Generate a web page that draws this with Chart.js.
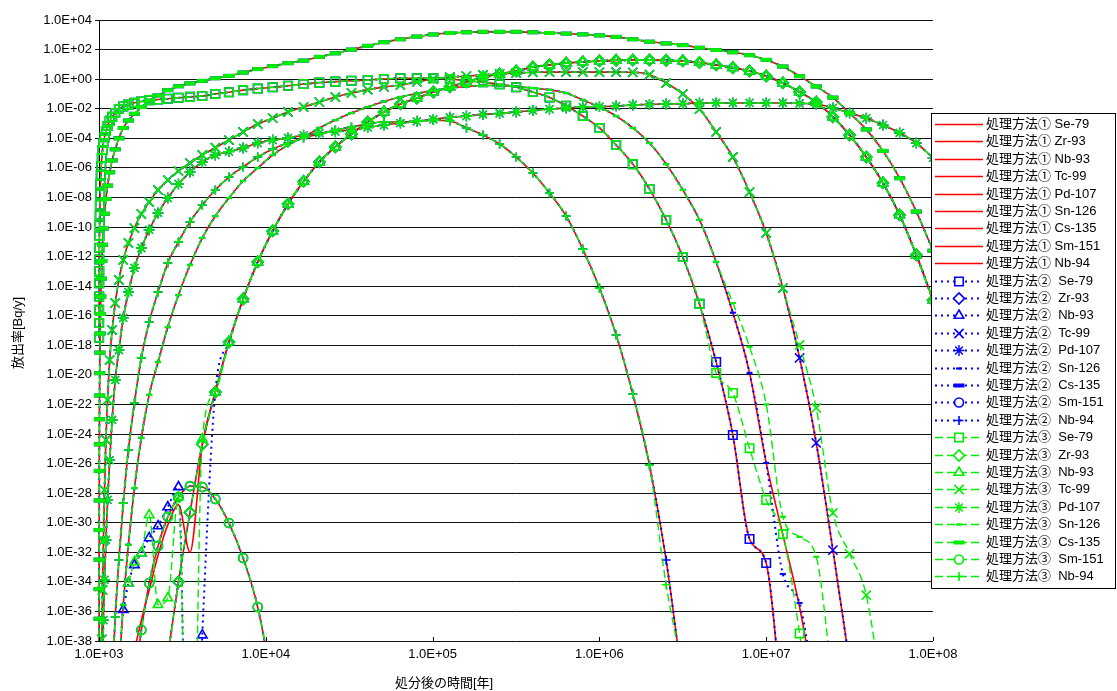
<!DOCTYPE html>
<html>
<head>
<meta charset="utf-8">
<script src="https://cdn.jsdelivr.net/npm/chart.js@4.4.1/dist/chart.umd.min.js"></script>
<style>
  html, body { margin: 0; padding: 0; background: #fff; }
  #wrap { position: relative; width: 1117px; height: 691px; }
</style>
</head>
<body>
<div id="wrap"><canvas id="releaseChart" width="1117" height="691"></canvas></div>
<script>
// time after disposal [y] (1000 + 10^(k/10), k = 0..80)
const years = [1001, 1001.3, 1001.6, 1002, 1002.5, 1003.2, 1004, 1005, 1006.3, 1007.9,
  1010, 1012.6, 1015.8, 1020, 1025.1, 1031.6, 1039.8, 1050.1, 1063.1, 1079.4,
  1100, 1125.9, 1158.5, 1199.5, 1251.2, 1316.2, 1398.1, 1501.2, 1631, 1794.3,
  2000, 2259, 2585, 2995, 3512, 4162, 4981, 6012, 7310, 8943,
  11000, 13589, 16849, 20953, 26119, 32623, 40811, 51119, 64096, 80433,
  1.01e5, 1.269e5, 1.595e5, 2.005e5, 2.522e5, 3.172e5, 3.991e5, 5.022e5, 6.32e5, 7.953e5,
  1.001e6, 1.26e6, 1.586e6, 1.996e6, 2.513e6, 3.163e6, 3.982e6, 5.013e6, 6.311e6, 7.944e6,
  1.0001e7, 1.259e7, 1.585e7, 1.995e7, 2.512e7, 3.162e7, 3.981e7, 5.012e7, 6.31e7, 7.943e7,
  1.00001e8];

const nuclides = ['Se-79', 'Zr-93', 'Nb-93', 'Tc-99', 'Pd-107', 'Sn-126', 'Cs-135', 'Sm-151', 'Nb-94'];
const methods = ['処理方法①', '処理方法②', '処理方法③'];

// release rate [Bq/y]; each list starts at the years index noted
// Se-79 from k=0 (to k=66, tails below)
const se79 = [3.2e-18, 3.2e-17, 2.5e-16, 2e-15, 1.6e-14, 1e-13, 6.3e-13, 4e-12, 2.5e-11, 1.3e-10,
  6.3e-10, 3.2e-9, 1.6e-8, 7.9e-8, 3.2e-7, 1.3e-6, 4.7e-6, 1.6e-5, 4.8e-5, 1.2e-4,
  3.1e-4, 6.8e-4, 1.5e-3, 2.8e-3, 5.1e-3, 9.5e-3, 1.4e-2, 1.9e-2, 2.5e-2, 3.1e-2,
  3.8e-2, 4.2e-2, 4.7e-2, 5.5e-2, 6.3e-2, 7.2e-2, 0.1, 0.13, 0.18, 0.23,
  0.28, 0.36, 0.47, 0.58, 0.68, 0.78, 0.87, 1.02, 1.15, 1.15,
  1.15, 1.02, 0.76, 0.63, 0.45, 0.28, 0.135, 0.058, 0.016, 3.2e-3,
  5e-4, 3.5e-5, 1.8e-6, 3.7e-8, 3e-10, 9.3e-13, 6.3e-16];
const se79TailA = [7.4e-20, 8.5e-25, 7.9e-32, 1.9e-33, 1e-43];
const se79TailC = [1.35e-20, 5.9e-22, 1.1e-25, 3.5e-29, 1.7e-31, 3.2e-38, 1e-46];

// Zr-93 from k=32
const zr93 = [1e-39, 1e-34, 5e-30, 2e-25, 6.9e-22, 1.66e-18, 1.35e-15, 4.3e-13, 5.4e-11, 3.6e-9,
  1.2e-7, 2.5e-6, 2.6e-5, 1.95e-4, 1.26e-3, 6e-3, 2.1e-2, 5.2e-2, 0.135, 0.3,
  0.65, 1.38, 2.24, 3.5, 6.6, 9.1, 12.3, 14.5, 17, 18.6,
  19.5, 19.5, 18.6, 17, 13.2, 9.1, 5.9, 3.5, 1.6, 0.55,
  0.135, 2.8e-2, 2.8e-3, 1.66e-4, 5.4e-6, 9.5e-8, 6.5e-10, 1.3e-12, 1.15e-15];

// Nb-93 early part per method (from k=28 / 26 / 27 up to k=35), later same as Zr-93
const nb93HeadA = [2.5e-39, 2.5e-37, 2.8e-35, 6.3e-33, 7.1e-31, 1.6e-29, 1e-32, 1.8e-25];
const nb93HeadB = [1.3e-36, 8.3e-35, 1.4e-33, 8.9e-33, 9.3e-32, 6e-31, 1.15e-29, 2.6e-28, 1e-60, 2.5e-38];
const nb93HeadC = [8.3e-35, 2.2e-33, 8.9e-33, 3.3e-30, 2.8e-36, 8.1e-36, 5.5e-29, 1e-60, 4.6e-25];

// Tc-99 from k=15 (to k=71)
const tc99 = [1e-42, 1.26e-38, 2.8e-35, 6.3e-32, 1.6e-28, 4e-25, 2e-22, 1e-19, 1.07e-17, 7.2e-16,
  2.6e-14, 5.9e-13, 8.3e-12, 8.5e-11, 7.6e-10, 4.9e-9, 3.2e-8, 1.5e-7, 6.2e-7, 2.1e-6,
  7.4e-6, 2.3e-5, 7.6e-5, 2.7e-4, 9.3e-4, 2.3e-3, 6e-3, 1.3e-2, 2.8e-2, 6.2e-2,
  0.115, 0.19, 0.3, 0.4, 0.65, 1.02, 1.38, 1.6, 1.9, 2.3,
  2.6, 2.9, 3.0, 3.0, 3.0, 3.0, 3.0, 2.9, 2.0, 0.55,
  0.1, 9.5e-3, 2.7e-4, 5.4e-6, 2.3e-8, 3.9e-11, 7.4e-15];
const tc99TailA = [1.4e-19, 2.5e-25, 1.4e-32, 3.2e-40];
const tc99TailC = [1.05e-18, 5.8e-23, 4.6e-30, 7.9e-33, 1.26e-35, 1e-42];

// Pd-107 from k=17
const pd107 = [5e-40, 2.6e-37, 1.35e-34, 6.8e-32, 3.5e-29, 1.7e-26, 8.9e-24, 4.5e-21, 4.8e-19, 7.1e-17,
  4e-15, 1.7e-13, 3.8e-12, 6.3e-11, 8.9e-10, 9.1e-9, 8.1e-8, 5.2e-7, 2.5e-6, 7.4e-6,
  1.26e-5, 2.2e-5, 4.8e-5, 7.6e-5, 1.05e-4, 1.6e-4, 2.2e-4, 2.8e-4, 3.6e-4, 5.4e-4,
  7.9e-4, 1.07e-3, 1.4e-3, 1.9e-3, 2.6e-3, 3.2e-3, 4.1e-3, 4.8e-3, 6e-3, 7.6e-3,
  9.5e-3, 1.12e-2, 1.3e-2, 1.4e-2, 1.5e-2, 1.8e-2, 1.95e-2, 2.1e-2, 2.2e-2, 2.45e-2,
  2.45e-2, 2.45e-2, 2.45e-2, 2.45e-2, 2.45e-2, 2.3e-2, 2.1e-2, 1.12e-2, 5.1e-3, 2.3e-3,
  7.9e-4, 2.3e-4, 4.8e-5, 4.7e-6];

// Sn-126 from k=25 (to k=67)
const sn126 = [1.1e-40, 2.8e-36, 3.2e-32, 2.2e-28, 5.4e-25, 4.4e-22, 7.4e-20, 1.7e-17, 2.5e-15, 2.7e-13,
  1.8e-11, 5.5e-10, 9.1e-9, 1.3e-7, 9.8e-7, 7.4e-6, 3.5e-5, 1.2e-4, 5e-4, 1.7e-3,
  5.1e-3, 1.3e-2, 3.1e-2, 6.2e-2, 0.107, 0.17, 0.25, 0.32, 0.37, 0.37,
  0.32, 0.25, 0.19, 0.115, 3.9e-2, 1.3e-2, 3.2e-3, 5e-4, 4.8e-5, 1.8e-6,
  3.2e-8, 3e-10, 4.3e-13];
const sn126TailA = [1.6e-16, 1.35e-20, 1.1e-26, 1.5e-31, 2e-36, 1e-42];
const sn126TailB = [1.6e-16, 1.35e-20, 1.1e-26, 3.4e-34, 3.7e-36, 1e-42];
const sn126TailC = [7.2e-16, 7.9e-19, 1e-22, 2.5e-30, 1.1e-31, 5e-33, 1e-41];

// Cs-135 from k=0
const cs135 = [3.2e-39, 3.2e-37, 3.2e-35, 3.2e-33, 3.2e-31, 3.2e-29, 3.2e-27, 2e-25, 1e-23, 4e-22,
  1.3e-20, 3.2e-19, 6.3e-18, 1.3e-16, 2e-15, 3.2e-14, 5e-13, 6.3e-12, 7.9e-11, 7.9e-10,
  7.9e-9, 6.3e-8, 5e-7, 3.2e-6, 1.8e-5, 1e-4, 5e-4, 1.6e-3, 4.5e-3, 1.3e-2,
  3.5e-2, 7.9e-2, 0.18, 0.33, 0.52, 0.76, 1.15, 1.66, 2.8, 4.8,
  7.6, 12, 18, 32, 56, 100, 178, 316, 500, 760,
  1050, 1320, 1480, 1580, 1580, 1580, 1480, 1320, 1200, 1070,
  910, 720, 500, 340, 260, 200, 132, 93, 66, 42,
  20, 7.1, 1.6, 0.32, 0.056, 5e-3, 4e-4, 1.4e-5, 2e-7, 1.1e-9,
  2.5e-12];

// Sm-151 from k=28
const sm151 = [1e-41, 5.6e-38, 8.3e-35, 2.7e-32, 2.5e-30, 5.5e-29, 3e-28, 2.6e-28, 4e-29, 9.5e-31,
  4.1e-33, 2e-36, 1e-41];

// Nb-94 from k=23 (to k=63)
const nb94 = [2.5e-41, 4.2e-37, 3e-33, 2.1e-29, 8.3e-26, 1.26e-22, 1.4e-19, 3.8e-17, 4e-15, 3.7e-13,
  9.8e-12, 2.2e-10, 3.1e-9, 3.2e-8, 2.4e-7, 1.15e-6, 5.4e-6, 1.9e-5, 4.8e-5, 1.05e-4,
  1.95e-4, 3.6e-4, 5.8e-4, 9.3e-4, 1.26e-3, 1.26e-3, 1.48e-3, 1.66e-3, 1.48e-3, 5e-4,
  1.66e-4, 4.1e-5, 5.4e-6, 4.5e-7, 2e-8, 5.5e-10, 3.2e-12, 7.4e-15, 5e-18, 5.1e-22,
  7.9e-27];
const nb94TailA = [3e-33, 1e-41];
const nb94TailC = [6.3e-35, 1e-40];

const xTicks = [1e3, 1e4, 1e5, 1e6, 1e7, 1e8];
const xTickLabels = ['1.0E+03', '1.0E+04', '1.0E+05', '1.0E+06', '1.0E+07', '1.0E+08'];
const yTicks = [1e-38, 1e-36, 1e-34, 1e-32, 1e-30, 1e-28, 1e-26, 1e-24, 1e-22, 1e-20, 1e-18,
  1e-16, 1e-14, 1e-12, 1e-10, 1e-8, 1e-6, 1e-4, 1e-2, 1, 1e2, 1e4];
const yTickLabels = ['1.0E-38', '1.0E-36', '1.0E-34', '1.0E-32', '1.0E-30', '1.0E-28', '1.0E-26',
  '1.0E-24', '1.0E-22', '1.0E-20', '1.0E-18', '1.0E-16', '1.0E-14', '1.0E-12', '1.0E-10',
  '1.0E-08', '1.0E-06', '1.0E-04', '1.0E-02', '1.0E+00', '1.0E+02', '1.0E+04'];

// [start index, values] for each nuclide, per method
const methodSeries = [
  [[0, se79.concat(se79TailA)], [32, zr93], [28, nb93HeadA.concat(zr93.slice(4))],
   [15, tc99.concat(tc99TailA)], [17, pd107], [25, sn126.concat(sn126TailA)],
   [0, cs135], [28, sm151], [23, nb94.concat(nb94TailA)]],
  [[0, se79.concat(se79TailA)], [32, zr93], [26, nb93HeadB.concat(zr93.slice(4))],
   [15, tc99.concat(tc99TailA)], [17, pd107], [25, sn126.concat(sn126TailB)],
   [0, cs135], [28, sm151], [23, nb94.concat(nb94TailA)]],
  [[0, se79.concat(se79TailC)], [32, zr93], [27, nb93HeadC.concat(zr93.slice(4))],
   [15, tc99.concat(tc99TailC)], [17, pd107], [25, sn126.concat(sn126TailC)],
   [0, cs135], [28, sm151], [23, nb94.concat(nb94TailC)]]
];

const lineColors = ['#ff0000', '#0000ff', '#00ee00'];
const lineDashes = [[], [2, 4], [8, 4]];
const lineWidths = [1.6, 2, 1.4];
const markerStyle = ['rect', 'rectRot', 'triangle', 'crossRot', 'star', 'line', 'line', 'circle', 'cross'];
const markerRadius = [6, 5.5, 5.5, 6.5, 5.5, 3, 5.5, 4.5, 4.5];
const markerWidth = [1.6, 1.6, 1.6, 1.6, 1.4, 2.2, 4, 1.6, 1.6];

const FONT = '"Liberation Sans", "Noto Sans CJK JP", sans-serif';

function points(from, values) {
  return values.map((v, i) => ({ x: years[from + i], y: v }));
}

const datasets = [];
methodSeries.forEach((series, m) => {
  series.forEach(([from, values], n) => {
    datasets.push({
      label: methods[m] + (m === 0 ? ' ' : '  ') + nuclides[n],
      data: points(from, values),
      borderColor: lineColors[m],
      borderWidth: lineWidths[m],
      borderDash: lineDashes[m],
      backgroundColor: 'transparent',
      pointRadius: m === 0 ? 0 : markerRadius[n],
      pointStyle: markerStyle[n],
      pointBorderColor: lineColors[m],
      pointBackgroundColor: 'transparent',
      pointBorderWidth: markerWidth[n],
      cubicInterpolationMode: 'monotone',
      order: 3 - m,
      clip: { left: 8, top: 0, right: 0, bottom: 0 }
    });
  });
});

function drawMarker(ctx, style, radius, width, x, y) {
  if (Chart.helpers && Chart.helpers.drawPoint) {
    Chart.helpers.drawPoint(ctx, { pointStyle: style, radius: radius, borderWidth: width, rotation: 0 }, x, y);
  } else {
    ctx.beginPath(); ctx.arc(x, y, radius, 0, Math.PI * 2); ctx.fill(); ctx.stroke();
  }
}

const decorations = {
  id: 'decorations',
  afterDraw(chart) {
    const ctx = chart.ctx;
    const xs = chart.scales.x;
    const bottom = chart.chartArea.bottom;
    ctx.save();
    // small tick marks on the time axis
    ctx.strokeStyle = '#000';
    ctx.lineWidth = 1;
    xTicks.forEach(v => {
      const px = Math.round(xs.getPixelForValue(v)) + 0.5;
      ctx.beginPath(); ctx.moveTo(px, bottom); ctx.lineTo(px, bottom - 4); ctx.stroke();
    });

    // legend box
    ctx.fillStyle = '#fff';
    ctx.fillRect(931.5, 113.5, 184, 475);
    ctx.strokeRect(931.5, 113.5, 184, 475);
    chart.data.datasets.forEach((ds, i) => {
      const y = Math.round(124 + i * 17.4) + 0.5;
      ctx.strokeStyle = ds.borderColor;
      ctx.lineWidth = ds.borderWidth;
      ctx.setLineDash(ds.borderDash);
      ctx.beginPath(); ctx.moveTo(935, y); ctx.lineTo(983, y); ctx.stroke();
      ctx.setLineDash([]);
      if (ds.pointRadius > 0) {
        ctx.strokeStyle = ds.pointBorderColor;
        ctx.fillStyle = '#fff';
        ctx.lineWidth = ds.pointBorderWidth;
        drawMarker(ctx, ds.pointStyle, ds.pointRadius, ds.pointBorderWidth, 959, y);
      }
      ctx.fillStyle = '#000';
      ctx.font = '13px ' + FONT;
      ctx.textAlign = 'left';
      ctx.textBaseline = 'middle';
      ctx.fillText(ds.label, 986, y);
    });

    // axis titles
    ctx.fillStyle = '#000';
    ctx.font = '13px ' + FONT;
    ctx.textAlign = 'center';
    ctx.textBaseline = 'middle';
    ctx.fillText('処分後の時間[年]', 444, 683);
    ctx.translate(18, 333);
    ctx.rotate(-Math.PI / 2);
    ctx.fillText('放出率[Bq/y]', 0, 0);
    ctx.restore();
  }
};

new Chart(document.getElementById('releaseChart').getContext('2d'), {
  type: 'line',
  data: { datasets: datasets },
  options: {
    responsive: false,
    animation: false,
    events: [],
    layout: { padding: { left: 0, top: 20, right: 184, bottom: 0 } },
    plugins: { legend: { display: false }, tooltip: { enabled: false } },
    scales: {
      x: {
        type: 'logarithmic', min: 1e3, max: 1e8,
        afterBuildTicks: s => { s.ticks = xTicks.map(v => ({ value: v })); },
        afterFit: s => { s.height = 50; },
        ticks: {
          callback: (v, i) => xTickLabels[i],
          autoSkip: false, maxRotation: 0, padding: 6,
          color: '#000', font: { family: FONT, size: 13 }
        },
        grid: { display: false, drawTicks: false },
        border: { display: false }
      },
      y: {
        type: 'logarithmic', min: 1e-38, max: 1e4,
        afterBuildTicks: s => { s.ticks = yTicks.map(v => ({ value: v })); },
        afterFit: s => { s.width = 99; },
        ticks: {
          callback: (v, i) => yTickLabels[i],
          autoSkip: false, padding: 3,
          color: '#000', font: { family: FONT, size: 13 }
        },
        grid: { color: '#111', lineWidth: 1, tickLength: 4 },
        border: { display: true, color: '#000', width: 1 }
      }
    }
  },
  plugins: [decorations]
});
</script>
</body>
</html>
